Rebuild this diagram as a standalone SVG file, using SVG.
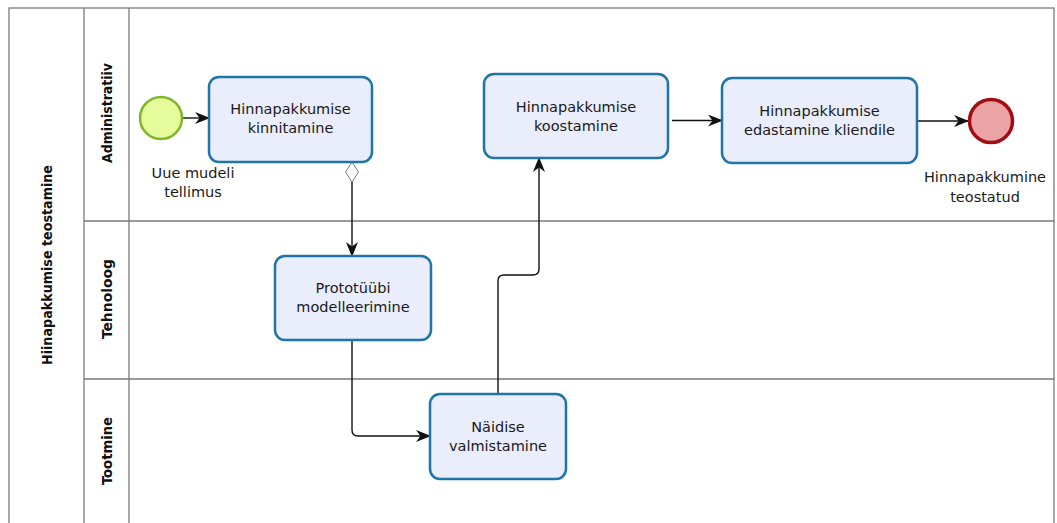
<svg xmlns="http://www.w3.org/2000/svg" width="1057" height="523" viewBox="0 0 1057 523">
  <style>
    .frame { fill: none; stroke: #7a7a7a; stroke-width: 1.3; }
    .task rect { fill: #e9edfc; stroke: #1f76a6; stroke-width: 2.5; }
    .lbl { font-family: "DejaVu Sans", sans-serif; font-size: 14.5px; fill: #1a1a1a; text-anchor: middle; }
    .lane { font-family: "DejaVu Sans Condensed", "DejaVu Sans", sans-serif; font-weight: bold; font-size: 14.5px; fill: #111; text-anchor: middle; }
    .flow { fill: none; stroke: #111; stroke-width: 1.4; }
  </style>
  <defs>
    <marker id="arrow" viewBox="0 0 15 12" refX="14" refY="6" markerWidth="15" markerHeight="12" markerUnits="userSpaceOnUse" orient="auto">
      <path d="M0,0 L15,6 L0,12 L4.5,6 Z" fill="#111"/>
    </marker>
  </defs>

  <rect width="1057" height="523" fill="#ffffff"/>

  <!-- pool and lanes -->
  <g id="pool">
    <rect class="frame" x="9" y="8" width="1045" height="520"/>
    <line class="frame" x1="84" y1="8" x2="84" y2="523"/>
    <line class="frame" x1="129" y1="8" x2="129" y2="523"/>
    <line class="frame" x1="84" y1="221" x2="1054" y2="221"/>
    <line class="frame" x1="84" y1="379" x2="1054" y2="379"/>
    <text class="lane" transform="translate(52,265) rotate(-90)" textLength="200" lengthAdjust="spacingAndGlyphs">Hiinapakkumise teostamine</text>
  </g>
  <g id="lane-administratiiv">
    <text class="lane" transform="translate(112,113) rotate(-90)" textLength="100" lengthAdjust="spacingAndGlyphs">Administratiiv</text>
  </g>
  <g id="lane-tehnoloog">
    <text class="lane" transform="translate(112,299) rotate(-90)" textLength="80" lengthAdjust="spacingAndGlyphs">Tehnoloog</text>
  </g>
  <g id="lane-tootmine">
    <text class="lane" transform="translate(112,451) rotate(-90)" textLength="68" lengthAdjust="spacingAndGlyphs">Tootmine</text>
  </g>

  <!-- sequence flows -->
  <g id="connectors">
    <line class="flow" x1="183" y1="118" x2="209" y2="118" marker-end="url(#arrow)"/>
    <path class="flow" d="M352,182 L352,256" marker-end="url(#arrow)"/>
    <path d="M352,162 L358.5,172 L352,182 L345.5,172 Z" fill="#ffffff" stroke="#777" stroke-width="1"/>
    <path class="flow" d="M352,340 L352,430 Q352,436 358,436 L430,436" marker-end="url(#arrow)"/>
    <path class="flow" d="M498,394 L498,281 Q498,275 504,275 L533,275 Q539,275 539,269 L539,158" marker-end="url(#arrow)"/>
    <line class="flow" x1="672" y1="120.5" x2="722" y2="120.5" marker-end="url(#arrow)"/>
    <line class="flow" x1="917" y1="121" x2="968" y2="121" marker-end="url(#arrow)"/>
  </g>

  <!-- events -->
  <g id="start-event">
    <circle cx="161" cy="118" r="21" fill="#e6fb9c" stroke="#7fb52a" stroke-width="2.5"/>
    <text class="lbl" x="193" y="178">Uue mudeli</text>
    <text class="lbl" x="193" y="197">tellimus</text>
  </g>
  <g id="end-event">
    <circle cx="991" cy="121" r="21.5" fill="#eba3a6" stroke="#a30d12" stroke-width="3.5"/>
    <text class="lbl" x="985" y="182">Hinnapakkumine</text>
    <text class="lbl" x="985" y="202">teostatud</text>
  </g>

  <!-- tasks -->
  <g id="task-kinnitamine" class="task">
    <rect x="209" y="77" width="163" height="85" rx="10"/>
    <text class="lbl" x="290.5" y="114">Hinnapakkumise</text>
    <text class="lbl" x="290.5" y="133">kinnitamine</text>
  </g>
  <g id="task-koostamine" class="task">
    <rect x="484" y="74" width="184" height="84" rx="10"/>
    <text class="lbl" x="576" y="112">Hinnapakkumise</text>
    <text class="lbl" x="576" y="131">koostamine</text>
  </g>
  <g id="task-edastamine" class="task">
    <rect x="722" y="78" width="195" height="85" rx="10"/>
    <text class="lbl" x="819.5" y="116">Hinnapakkumise</text>
    <text class="lbl" x="819.5" y="135">edastamine kliendile</text>
  </g>
  <g id="task-prototyyp" class="task">
    <rect x="275" y="256" width="156" height="84" rx="10"/>
    <text class="lbl" x="353" y="293">Prototüübi</text>
    <text class="lbl" x="353" y="312">modelleerimine</text>
  </g>
  <g id="task-naidis" class="task">
    <rect x="430" y="394" width="136" height="85" rx="10"/>
    <text class="lbl" x="498" y="432">Näidise</text>
    <text class="lbl" x="498" y="451">valmistamine</text>
  </g>
</svg>
